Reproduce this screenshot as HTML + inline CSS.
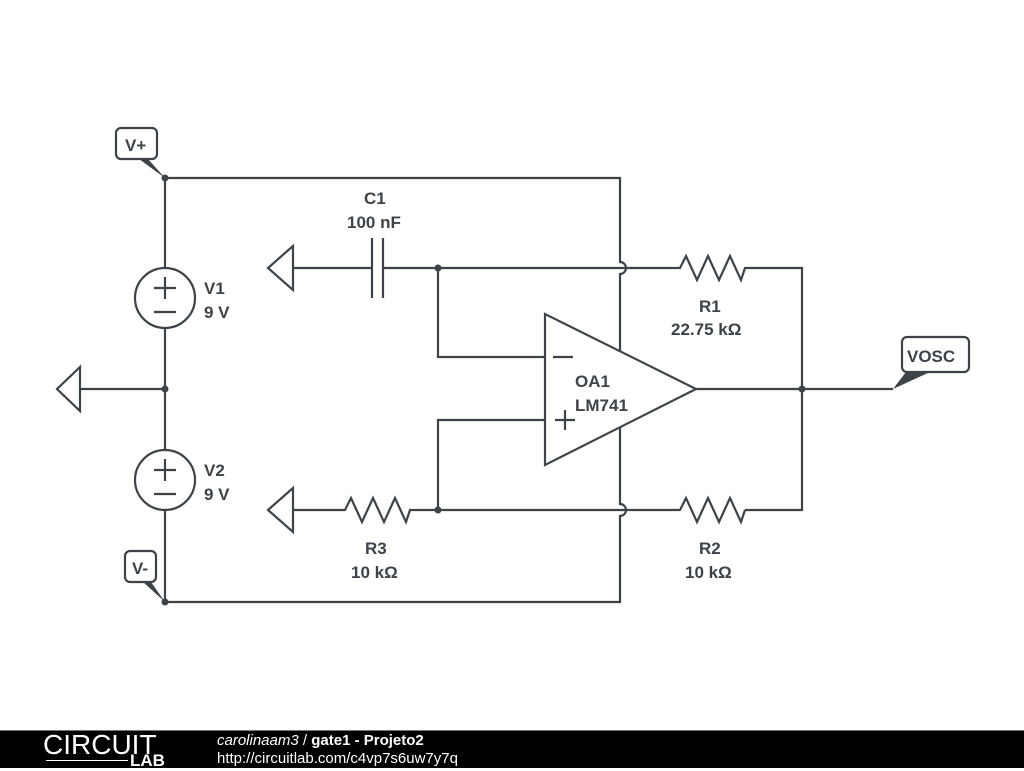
<!DOCTYPE html>
<html><head><style>
body{margin:0;width:1024px;height:768px;background:#fff;overflow:hidden;position:relative;font-family:"Liberation Sans",sans-serif}
.ft{position:absolute;left:0;top:730px;width:1024px;height:38px;background:#000;border-top:1px solid #777;box-sizing:border-box}
</style></head><body>
<svg width="1024" height="730" style="position:absolute;left:0;top:0">
<g fill="none" stroke="#3c4449" stroke-width="2.2" stroke-linejoin="miter">
<path d="M165 178H620V262a6 6 0 0 1 0 12V504a6 6 0 0 1 0 12V602H165"/>
<path d="M165 178V268M165 328V450M165 510V602"/>
<circle cx="165" cy="298" r="30"/><circle cx="165" cy="480" r="30"/>
<line x1="154" y1="288" x2="176" y2="288"/><line x1="165" y1="277" x2="165" y2="299"/><line x1="154" y1="312" x2="176" y2="312"/>
<line x1="154" y1="470" x2="176" y2="470"/><line x1="165" y1="459" x2="165" y2="481"/><line x1="154" y1="494" x2="176" y2="494"/>
<path d="M80 389H165M80 367L57 389L80 411Z"/>
<path d="M293 268H372M383 268H680l6 -12l11 24l11 -24l11 24l11 -24l11 24l4 -12H802V510H745"/>
<path d="M372 238V298M383 238V298"/>
<path d="M293 246L268 268L293 290Z"/>
<path d="M438 268V357H545M438 510V420H545"/>
<path d="M545 314L545 465L696 389Z" fill="#fff"/>
<path d="M553 357h20"/>
<line x1="555" y1="420" x2="575" y2="420"/><line x1="565" y1="410" x2="565" y2="430"/>
<path d="M293 510H345l6 -12l11 24l11 -24l11 24l11 -24l11 24l4 -12H680l6 -12l11 24l11 -24l11 24l11 -24l11 24l4 -12"/>
<path d="M293 488L268 510L293 532Z"/>
<path d="M696 389H893"/>
<rect x="116" y="128" width="41" height="31" rx="5"/>
<rect x="125" y="551" width="31" height="31" rx="5"/>
<rect x="902" y="337" width="67" height="35" rx="5"/>
</g>
<g fill="#3c4449">
<circle cx="165" cy="178" r="3.5"/><circle cx="165" cy="389" r="3.5"/><circle cx="165" cy="602" r="3.5"/>
<circle cx="438" cy="268" r="3.5"/><circle cx="438" cy="510" r="3.5"/><circle cx="802" cy="389" r="3.5"/>
<path d="M139 159L165 178L148 159Z"/>
<path d="M143 582L165 602L151 582Z"/>
<path d="M893 389L906 372L930 372Z"/>
</g>
<g fill="#3c4449" font-family="Liberation Sans,sans-serif" font-size="17" font-weight="bold">
<text x="125" y="151">V+</text>
<text x="132" y="574">V-</text>
<text x="907" y="362">VOSC</text>
<text x="364" y="204">C1</text>
<text x="347" y="228">100 nF</text>
<text x="204" y="294">V1</text><text x="204" y="318">9 V</text>
<text x="204" y="476">V2</text><text x="204" y="500">9 V</text>
<text x="575" y="387">OA1</text><text x="575" y="411">LM741</text>
<text x="699" y="312">R1</text><text x="671" y="335">22.75 kΩ</text>
<text x="365" y="554">R3</text><text x="351" y="578">10 kΩ</text>
<text x="699" y="554">R2</text><text x="685" y="578">10 kΩ</text>
</g>
</svg>
<div class="ft">
<div style="position:absolute;left:43px;top:-2px;color:#fff;font-size:28px;font-weight:300">CIRCUIT</div>
<div style="position:absolute;left:130px;top:20px;color:#fff;font-size:17px;font-weight:bold">LAB</div>
<div style="position:absolute;left:46px;top:29px;width:82px;height:1px;background:#fff"></div>
<div style="position:absolute;left:217px;top:1px;color:#fff;font-size:15px"><i>carolinaam3</i> / <b>gate1 - Projeto2</b></div>
<div style="position:absolute;left:217px;top:19px;color:#fff;font-size:15px">http://circuitlab.com/c4vp7s6uw7y7q</div>
</div>
</body></html>
